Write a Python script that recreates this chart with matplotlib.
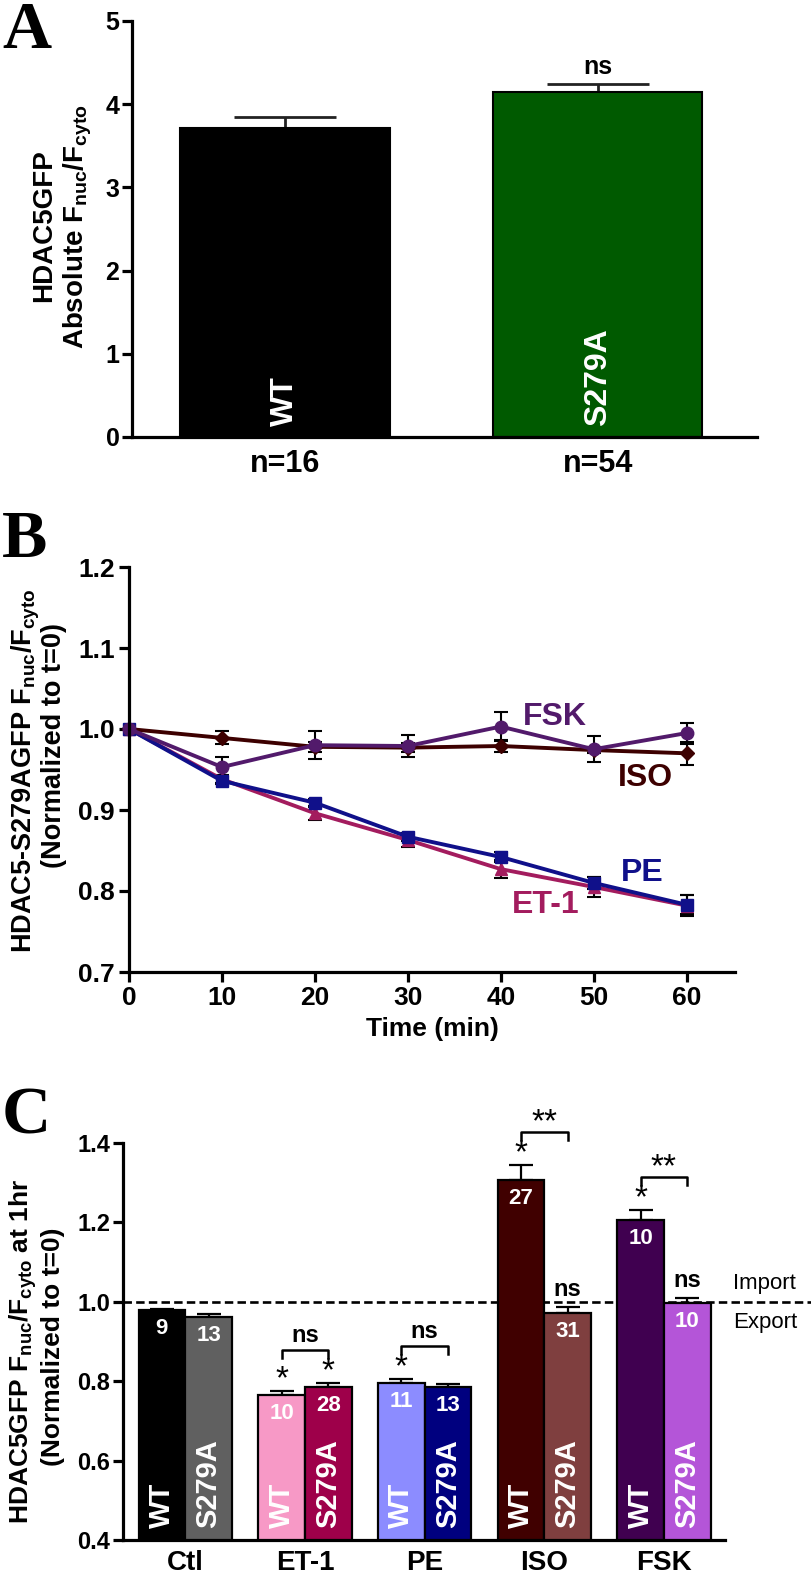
import numpy as np
import matplotlib.pyplot as plt

plt.rcParams['font.family'] = ['Liberation Sans', 'DejaVu Sans']
plt.rcParams['font.weight'] = 'bold'
plt.rcParams['axes.labelweight'] = 'bold'
plt.rcParams['mathtext.fontset'] = 'custom'
plt.rcParams['mathtext.rm'] = 'Liberation Sans:bold'
plt.rcParams['mathtext.bf'] = 'Liberation Sans:bold'
plt.rcParams['mathtext.it'] = 'Liberation Sans:bold'

# ---- panel A data
a_labels = ['WT', 'S279A']
a_n = ['n=16', 'n=54']
a_mean = [3.71, 4.15]
a_sem = [0.14, 0.09]
a_colors = ['#000000', '#005a00']

# ---- panel B data (time course)
b_time = [0, 10, 20, 30, 40, 50, 60]
b_et1 = [1.0, 0.938, 0.896, 0.863, 0.827, 0.805, 0.782]
b_et1_err = [0, 0.005, 0.008, 0.009, 0.011, 0.012, 0.013]
b_pe = [1.0, 0.936, 0.909, 0.867, 0.842, 0.810, 0.783]
b_pe_err = [0, 0.004, 0.004, 0.005, 0.006, 0.007, 0.012]
b_iso = [1.0, 0.989, 0.978, 0.977, 0.979, 0.974, 0.970]
b_iso_err = [0, 0.008, 0.006, 0.006, 0.008, 0.004, 0.014]
b_fsk = [1.0, 0.953, 0.980, 0.979, 1.003, 0.975, 0.995]
b_fsk_err = [0, 0.012, 0.017, 0.014, 0.018, 0.016, 0.013]

# ---- panel C data (1 hr)
c_groups = ['Ctl', 'ET-1', 'PE', 'ISO', 'FSK']
c_wt = [0.979, 0.765, 0.796, 1.306, 1.207]
c_wt_sem = [0.004, 0.010, 0.009, 0.038, 0.024]
c_mut = [0.961, 0.786, 0.786, 0.973, 0.998]
c_mut_sem = [0.009, 0.010, 0.008, 0.013, 0.011]
c_wt_n = ['9', '10', '11', '27', '10']
c_mut_n = ['13', '28', '13', '31', '10']
c_wt_colors = ['#000000', '#f799c6', '#8c8cff', '#400000', '#400050']
c_mut_colors = ['#606060', '#9e004a', '#00007f', '#7f3f3f', '#b455d8']
c_wt_star = ['', '*', '*', '*', '*']
c_mut_star = ['', '*', '', '', '']
c_mut_ns = ['', '', '', 'ns', 'ns']
c_pair_sig = ['', 'ns', 'ns', '**', '**']

W, H = 812, 1576
fig = plt.figure(figsize=(W / 100, H / 100), dpi=100)


def box(l, t, r, b):
    return [l / W, 1 - b / H, (r - l) / W, (b - t) / H]


def style(ax):
    for s in ['top', 'right']:
        ax.spines[s].set_visible(False)
    for s in ['left', 'bottom']:
        ax.spines[s].set_linewidth(2.3)
    ax.tick_params(width=2.3, length=7, direction='out')


def letter(x, y, s):
    fig.text(x / W, 1 - y / H, s, family='Liberation Serif', weight='bold',
             fontsize=49, va='baseline', ha='left')


def ylab(x, y, s, size):
    fig.text(x / W, 1 - y / H, s, rotation=90, ha='center', va='center',
             fontsize=size, weight='bold')


# ================= A
axA = fig.add_axes(box(132, 21, 757, 437))
style(axA)
xa = np.arange(len(a_mean))
axA.bar(xa, a_mean, width=0.67, color=a_colors, edgecolor='black', linewidth=1.5, zorder=2)
for i in range(len(xa)):
    axA.errorbar(xa[i], a_mean[i], yerr=[[0], [a_sem[i]]], fmt='none',
                 ecolor='#222222', elinewidth=2, capsize=37, capthick=2, zorder=1)
    axA.text(xa[i], 0.13, a_labels[i], rotation=90, ha='center', va='bottom',
             color='white', fontsize=23)
axA.text(1, 4.45, 'ns', ha='center', va='center', fontsize=18)
axA.set_xlim(-0.49, 1.51)
axA.set_ylim(0, 5)
axA.set_yticks([0, 1, 2, 3, 4, 5])
axA.set_xticks(xa)
axA.set_xticklabels(a_n, fontsize=22)
axA.tick_params(axis='x', length=0, pad=9)
axA.tick_params(axis='y', labelsize=18, pad=2)
letter(2, 48, 'A')
ylab(44, 226, 'HDAC5GFP', 20)
ylab(78, 226, r'Absolute $\mathbf{F_{nuc}/F_{cyto}}$', 20)

# ================= B
axB = fig.add_axes(box(129, 567, 735, 972))
style(axB)
series = [
    (b_et1, b_et1_err, '#a31c5e', '^', 8),
    (b_pe, b_pe_err, '#10108a', 's', 8),
    (b_iso, b_iso_err, '#3d0000', 'D', 7),
    (b_fsk, b_fsk_err, '#521a6b', 'o', 9),
]
for vals, err, col, mk, ms in series:
    axB.errorbar(b_time, vals, yerr=err, color=col, marker=mk, ms=ms, lw=2.8,
                 ecolor='black', elinewidth=1.5, capsize=5, capthick=1.5, clip_on=False)
axB.text(45.8, 1.015, 'FSK', color='#521a6b', fontsize=23, ha='center', va='center')
axB.text(55.6, 0.94, 'ISO', color='#3d0000', fontsize=23, ha='center', va='center')
axB.text(55.2, 0.822, 'PE', color='#10108a', fontsize=23, ha='center', va='center')
axB.text(44.8, 0.783, 'ET-1', color='#a31c5e', fontsize=23, ha='center', va='center')
axB.set_xlim(0, 65.2)
axB.set_ylim(0.7, 1.2)
axB.set_xticks(b_time)
axB.set_yticks([0.7, 0.8, 0.9, 1.0, 1.1, 1.2])
axB.set_yticklabels(['%.1f' % v for v in [0.7, 0.8, 0.9, 1.0, 1.1, 1.2]])
axB.tick_params(labelsize=19, pad=3)
axB.set_xlabel('Time (min)', fontsize=19, labelpad=5, fontweight='bold')
letter(2, 557, 'B')
ylab(26, 771, r'HDAC5-S279AGFP $\mathbf{F_{nuc}/F_{cyto}}$', 19.5)
ylab(54, 745, '(Normalized to t=0)', 19.5)

# ================= C
axC = fig.add_axes(box(123, 1143, 725, 1540))
style(axC)
xc = np.arange(len(c_groups))
bw = 0.39
axC.plot([-0.52, 5.3], [1.0, 1.0], color='black', lw=1.9, dashes=(3.2, 1.6),
         clip_on=False, zorder=1)
axC.bar(xc - bw / 2, np.array(c_wt) - 0.4, bottom=0.4, width=bw, color=c_wt_colors,
        edgecolor='black', linewidth=1.6, zorder=3)
axC.bar(xc + bw / 2, np.array(c_mut) - 0.4, bottom=0.4, width=bw, color=c_mut_colors,
        edgecolor='black', linewidth=1.6, zorder=3)
axC.errorbar(xc - bw / 2, c_wt, yerr=[np.zeros(5), c_wt_sem], fmt='none', ecolor='black',
             elinewidth=1.6, capsize=8.5, capthick=1.6, zorder=2, clip_on=False)
axC.errorbar(xc + bw / 2, c_mut, yerr=[np.zeros(5), c_mut_sem], fmt='none', ecolor='black',
             elinewidth=1.6, capsize=8.5, capthick=1.6, zorder=2, clip_on=False)
for i in range(len(xc)):
    xw, xm = xc[i] - bw / 2, xc[i] + bw / 2
    tw, tm = c_wt[i] + c_wt_sem[i], c_mut[i] + c_mut_sem[i]
    axC.text(xw, 0.43, 'WT', rotation=90, ha='center', va='bottom', color='white',
             fontsize=21, zorder=4)
    axC.text(xm, 0.43, 'S279A', rotation=90, ha='center', va='bottom', color='white',
             fontsize=21, zorder=4)
    axC.text(xw, c_wt[i] - 0.047, c_wt_n[i], ha='center', va='center', color='white',
             fontsize=16, zorder=4)
    axC.text(xm, c_mut[i] - 0.047, c_mut_n[i], ha='center', va='center', color='white',
             fontsize=16, zorder=4)
    if c_wt_star[i]:
        axC.text(xw, tw + 0.007, c_wt_star[i], ha='center', va='baseline', fontsize=24,
                 weight='normal', clip_on=False)
    if c_mut_star[i]:
        axC.text(xm, tm + 0.007, c_mut_star[i], ha='center', va='baseline', fontsize=24,
                 weight='normal', clip_on=False)
    if c_mut_ns[i]:
        axC.text(xm, tm + 0.045, c_mut_ns[i], ha='center', va='center', fontsize=17)
    if c_pair_sig[i]:
        yb = max(tw, tm) + 0.083
        axC.plot([xw, xw, xm, xm], [yb - 0.02, yb, yb, yb - 0.02], color='black',
                 lw=1.8, clip_on=False)
        if c_pair_sig[i] == 'ns':
            axC.text(xc[i], yb + 0.036, 'ns', ha='center', va='center', fontsize=17)
        else:
            axC.text(xc[i], yb + 0.002, '**', ha='center', va='baseline', fontsize=24,
                     weight='normal', clip_on=False)
axC.text(4.58, 1.045, 'Import', ha='left', va='center', fontsize=16, weight='normal')
axC.text(4.58, 0.948, 'Export', ha='left', va='center', fontsize=16, weight='normal')
axC.set_xlim(-0.52, 4.51)
axC.set_ylim(0.4, 1.4)
axC.set_yticks([0.4, 0.6, 0.8, 1.0, 1.2, 1.4])
axC.set_yticklabels(['%.1f' % v for v in [0.4, 0.6, 0.8, 1.0, 1.2, 1.4]])
axC.tick_params(axis='y', labelsize=17, pad=2)
axC.set_xticks(xc)
axC.set_xticklabels(c_groups, fontsize=20)
axC.tick_params(axis='x', length=0, pad=7)
letter(2, 1133, 'C')
ylab(23, 1351, r'HDAC5GFP $\mathbf{F_{nuc}/F_{cyto}}$ at 1hr', 19)
ylab(53, 1347, '(Normalized to t=0)', 19)

fig.savefig('out.png', dpi=100)
